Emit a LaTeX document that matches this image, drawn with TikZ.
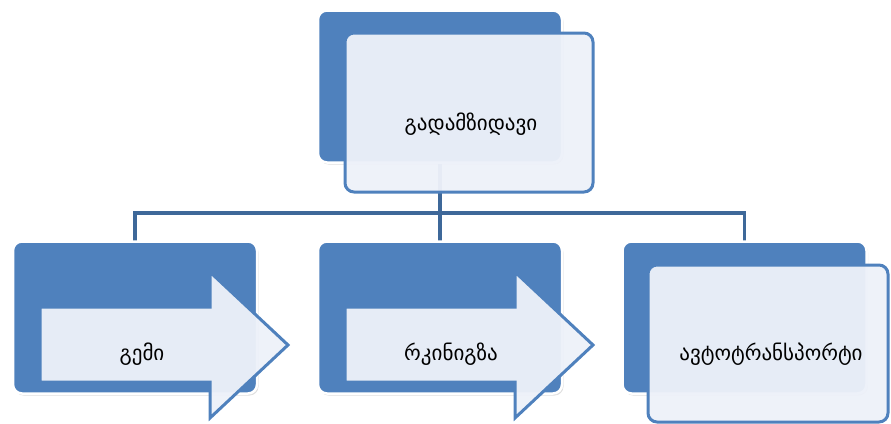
\documentclass[tikz,border=0pt]{standalone}
\usepackage{fontspec}
\newfontfamily\geofont{DejaVu Sans}
\usetikzlibrary{shapes,shadows}
\definecolor{boxblue}{HTML}{4F81BD}
\definecolor{linkblue}{HTML}{3E6899}
\definecolor{paleblue}{HTML}{EDF1F9}
\tikzset{
  backbox/.style={shape=rectangle,rounded corners=9pt,fill=boxblue,draw=white,line width=2.5pt,
    minimum width=244pt,minimum height=152pt,inner sep=0pt,
    drop shadow={shadow xshift=1.5pt,shadow yshift=-2pt,opacity=0.25}},
  frontbox/.style={shape=rectangle,rounded corners=9pt,fill=paleblue,fill opacity=0.96,draw=boxblue,
    line width=3pt,inner sep=0pt},
  arrowpart/.style={fill=paleblue,fill opacity=0.96,draw=boxblue,line width=3pt,line join=miter},
  txt/.style={font=\geofont\fontsize{21}{24}\selectfont,text=black,inner sep=0pt},
  link/.style={draw=linkblue,line width=3.6pt}
}
\begin{document}
\begin{tikzpicture}[x=1pt,y=-1pt]
\useasboundingbox (0,0) rectangle (891,423);
\node[shape=rectangle,minimum width=244pt,minimum height=152pt,inner sep=0pt] (carrier) at (440,86.5) {};
\node[shape=rectangle,minimum width=244pt,minimum height=152pt,inner sep=0pt] (ship) at (135,317.5) {};
\node[shape=rectangle,minimum width=244pt,minimum height=152pt,inner sep=0pt] (rail) at (440,317.5) {};
\node[shape=rectangle,minimum width=244pt,minimum height=152pt,inner sep=0pt] (auto) at (744.5,317.5) {};
\coordinate (bus) at (440,213);

\path [link] (carrier.south) -- (bus);
\path [link] (bus) -| (ship.north);
\path [link] (bus) -- (rail.north);
\path [link] (bus) -| (auto.north);

\node[backbox] at (carrier) {};
\node[backbox] at (ship) {};
\node[backbox] at (rail) {};
\node[backbox] at (auto) {};

\node[frontbox,minimum width=248pt,minimum height=159pt] (carrierfront) at (469,112.5) {};
\node[frontbox,minimum width=240pt,minimum height=157pt] (autofront) at (768,343.5) {};
\draw[arrowpart] (40,307) -- (210,307) -- (210,272) -- (288,345) -- (210,418) -- (210,382) -- (40,382) -- cycle;
\draw[arrowpart] (345,307) -- (515,307) -- (515,272) -- (593,345) -- (515,418) -- (515,382) -- (345,382) -- cycle;

\node[txt] (carriertext) at (471,124) {გადამზიდავი};
\node[txt] (shiptext) at (142,354) {გემი};
\node[txt] (railtext) at (451,354) {რკინიგზა};
\node[txt] (autotext) at (771,354) {ავტოტრანსპორტი};
\end{tikzpicture}
\end{document}
